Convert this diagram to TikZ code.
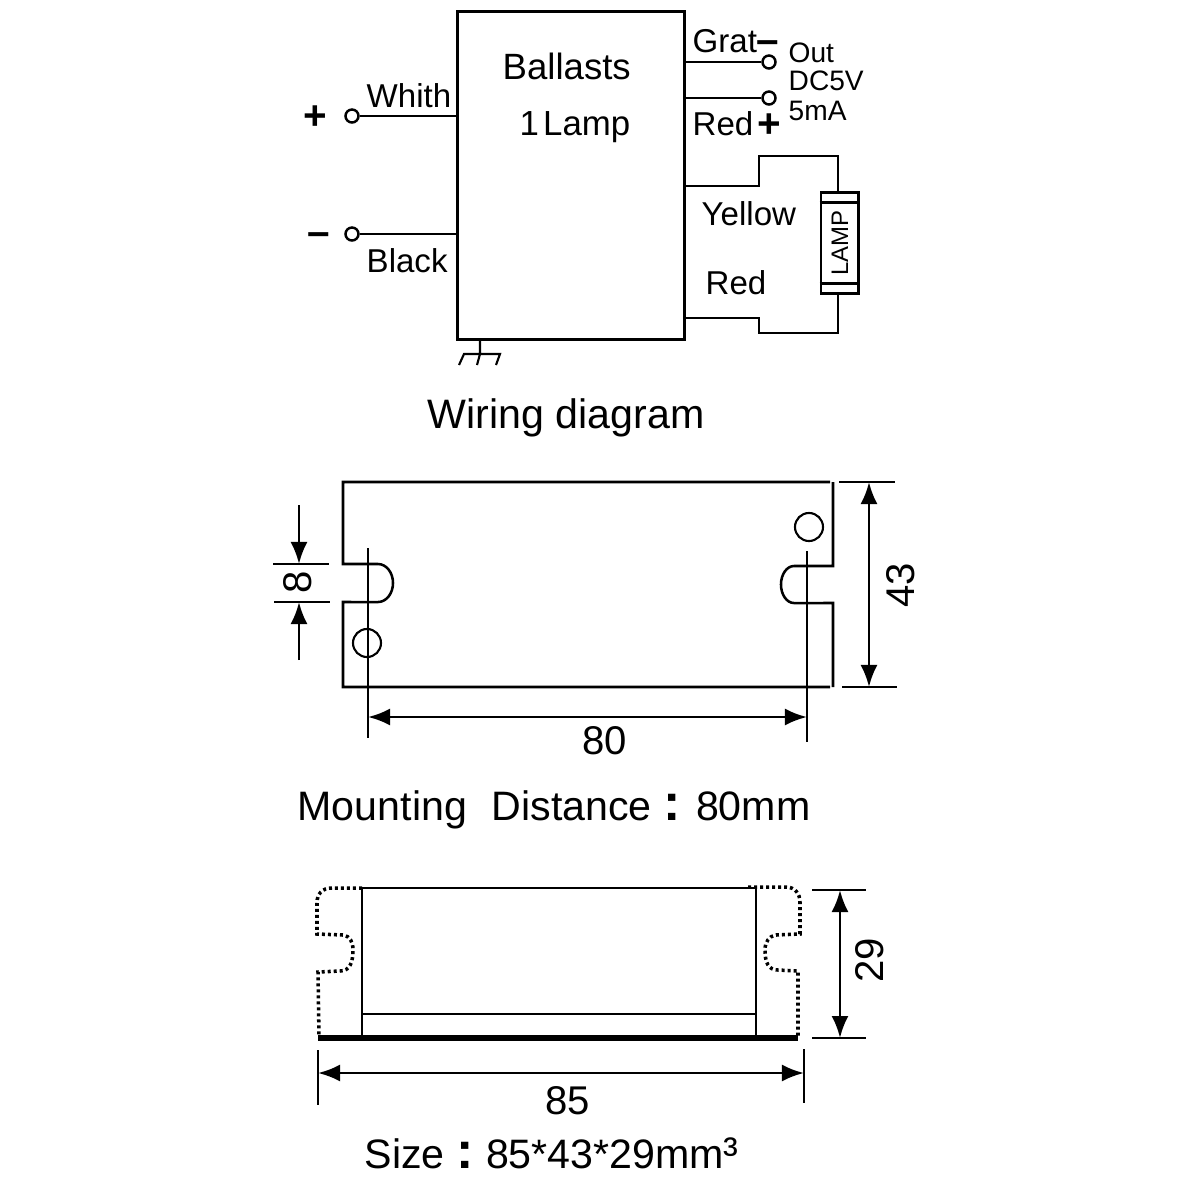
\documentclass[tikz,border=0pt]{standalone}
\usepackage{fontspec}
\setmainfont{Liberation Sans}
\newcommand{\wcolon}{{\fontsize{14.8pt}{15pt}\selectfont\bfseries :}}
\usetikzlibrary{arrows.meta}
\tikzset{
	wire/.style={line width=0.8pt},
	part/.style={line width=0.72pt},
	thin line/.style={line width=0.6pt},
	dim/.style={line width=0.8pt,{Latex[length=0.22cm,width=0.17cm]}-{Latex[length=0.22cm,width=0.17cm]}},
	dimin/.style={line width=0.8pt,-{Latex[length=0.22cm,width=0.17cm]}},
	dots/.style={line width=1pt,dash pattern=on 0.03cm off 0.03cm},
	term/.style={circle,draw,line width=0.7pt,fill=white,minimum size=0.13cm,inner sep=0pt},
	hole/.style={circle,draw,line width=0.6pt,minimum size=0.28cm,inner sep=0pt},
	lab/.style={anchor=base west,inner sep=0pt,font=\fontsize{9.4pt}{11pt}\selectfont},
	small lab/.style={anchor=base west,inner sep=0pt,font=\fontsize{8pt}{10pt}\selectfont},
	sign/.style={inner sep=0pt,font=\fontsize{11.5pt}{12pt}\selectfont\bfseries},
	cap lab/.style={anchor=base west,inner sep=0pt,font=\fontsize{11.7pt}{14pt}\selectfont},
	num/.style={inner sep=0pt,font=\fontsize{11.4pt}{14pt}\selectfont}
}
\begin{document}
\begin{tikzpicture}[x=0.01cm,y=-0.01cm,line join=miter,line cap=butt]
	\useasboundingbox (0,0) rectangle (1181,1181);
	%Wiring diagram
	\node[draw,line width=0.85pt,minimum width=2.26cm,minimum height=3.27cm,inner sep=0pt] (Bal) at (571,175.5) {};
	\node[lab,font=\fontsize{10.4pt}{12pt}\selectfont] (tBal) at (502,79) {Ballasts};
	\node[lab,font=\fontsize{9.9pt}{12pt}\selectfont] (tLamp) at (519,135) {1\kern0.12em Lamp};
	\node[term] (T1) at (352,116) {};
	\node[term] (T2) at (352,234) {};
	\node[term] (T3) at (769,62) {};
	\node[term] (T4) at (769,98) {};
	\draw[wire] (T1)--(T1-|Bal.west);
	\draw[wire] (T2)--(T2-|Bal.west);
	\draw[wire] (T3)--(T3-|Bal.east);
	\draw[wire] (T4)--(T4-|Bal.east);
	\node[sign] (sP) at (315,118) {+};
	\node[sign] (sM) at (319,239) {–};
	\node[sign] (sGr) at (768,47) {–};
	\node[sign] (sRe) at (769,126) {+};
	\node[lab] (tWh) at (366,107) {Whith};
	\node[lab] (tBl) at (366,272) {Black};
	\node[lab] (tGr) at (692,52) {Grat};
	\node[lab] (tRe) at (692,135) {Red};
	\node[lab] (tYe) at (701,225) {Yellow};
	\node[lab] (tRd) at (705,294) {Red};
	\node[small lab] (tOut) at (788,62) {Out};
	\node[small lab] (tDC) at (788,90) {DC5V};
	\node[small lab] (tMA) at (788,120) {5mA};
	%Lamp
	\node[draw,line width=0.85pt,minimum width=0.37cm,minimum height=1cm,inner sep=0pt] (Lp) at (839.5,243) {};
	\node[rotate=90,inner sep=0pt,font=\fontsize{6.8pt}{8pt}\selectfont] (tLp) at (840,243) {LAMP};
	\draw[wire] (Lp.north west)++(0,11) coordinate (L1)--(L1-|Lp.east);
	\draw[wire] (Lp.south west)++(0,-11) coordinate (L2)--(L2-|Lp.east);
	\path (Bal.east|-0,186) coordinate (Y1)
	(759,186) coordinate (Y2)
	(759,156) coordinate (Y3)
	(838,156) coordinate (Y4)
	(838,193) coordinate (Y5)
	(Bal.east|-0,318) coordinate (R1)
	(759,318) coordinate (R2)
	(759,333) coordinate (R3)
	(838,333) coordinate (R4)
	(838,293) coordinate (R5);
	\draw[wire] (Y1)--(Y2)--(Y3)--(Y4)--(Y5);
	\draw[wire] (R1)--(R2)--(R3)--(R4)--(R5);
	%Ground
	\path (480,339) coordinate (G0)
	(480,354) coordinate (G1)
	(464,354) coordinate (G2)
	(500,354) coordinate (G3)
	(459,365) coordinate (G4)
	(477,365) coordinate (G5)
	(496,365) coordinate (G6);
	\draw[thin line] (G0)--(G1) (G4)--(G2)--(G3)--(G6) (G1)--(G5);
	\node[cap lab] (tWir) at (427,428) {Wiring diagram};
	%Mounting view
	\path (343,482) coordinate (A1)
	(830,482) coordinate (A2)
	(833,482) coordinate (B1)
	(833,566) coordinate (B2)
	(794,566) coordinate (B3)
	(794,603) coordinate (B4)
	(833,603) coordinate (B5)
	(833,687) coordinate (B6)
	(343,564) coordinate (C1)
	(378,564) coordinate (C2)
	(378,602) coordinate (C3)
	(343,602) coordinate (C4)
	(343,687) coordinate (C5)
	(830,687) coordinate (C6);
	\draw[part] (A2)--(A1)--(C1)--(C2) arc (90:-90:0.15cm and 0.19cm)--(C4)--(C5)--(C6);
	\draw[part] (B1)--(B2)--(B3) arc (90:270:0.13cm and 0.185cm)--(B5)--(B6);
	\node[hole] (H1) at (367,643) {};
	\node[hole] (H2) at (809,527) {};
	\path (368,548) coordinate (E1) (368,738) coordinate (E2)
	(807,551) coordinate (E3) (807,742) coordinate (E4)
	(368,717) coordinate (E5) (807,717) coordinate (E6)
	(839,482) coordinate (F1) (895,482) coordinate (F2)
	(842,687) coordinate (F3) (897,687) coordinate (F4)
	(869,482) coordinate (F5) (869,687) coordinate (F6)
	(273,564) coordinate (K1) (329,564) coordinate (K2)
	(274,602) coordinate (K3) (330,602) coordinate (K4)
	(299,505) coordinate (K5) (299,564) coordinate (K6)
	(299,660) coordinate (K7) (299,602) coordinate (K8);
	\draw[part] (E1)--(E2) (E3)--(E4) (F1)--(F2) (F3)--(F4) (K1)--(K2) (K3)--(K4);
	\draw[dim] (E5)--(E6);
	\draw[dim] (F5)--(F6);
	\draw[dimin] (K5)--(K6);
	\draw[dimin] (K7)--(K8);
	\node[num,rotate=90] (n8) at (298,582) {8};
	\node[num,rotate=90] (n43) at (901,585) {43};
	\node[num] (n80) at (605,741) {80};
	\node[cap lab] (tMou) at (297,820) {Mounting\kern0.6em Distance\kern0.12cm\wcolon\kern0.15cm 80mm};
	%Size view
	\path (362,888) coordinate (S1) (756,888) coordinate (S2)
	(362,1037) coordinate (S3) (756,1037) coordinate (S4)
	(362,1014) coordinate (S5) (756,1014) coordinate (S6)
	(318,1038) coordinate (S7) (798,1038) coordinate (S8)
	(318,1050) coordinate (M1) (318,1105) coordinate (M2)
	(804,1049) coordinate (M3) (804,1103) coordinate (M4)
	(318,1073) coordinate (M5) (804,1073) coordinate (M6)
	(812,890) coordinate (N1) (866,890) coordinate (N2)
	(812,1038) coordinate (N3) (866,1038) coordinate (N4)
	(840,890) coordinate (N5) (840,1038) coordinate (N6);
	\draw[part] (S3)--(S1)--(S2)--(S4) (S5)--(S6);
	\draw[line width=1.5pt] (S7)--(S8);
	\draw[dots] (362,888)--(332,888) .. controls (322,888) and (317,894) .. (317,903)--(317,934)--(343,935)
	.. controls (350,936) and (353,942) .. (353,950) .. controls (353,962) and (350,971) .. (340,971)--(318,972)--(319,1037);
	\draw[dots] (748,887)--(786,887) .. controls (795,887) and (800,894) .. (800,902)--(800,934)--(776,935)
	.. controls (769,936) and (765,942) .. (765,950) .. controls (765,962) and (768,970) .. (778,970)--(798,971)--(798,1037);
	\draw[part] (M1)--(M2) (M3)--(M4) (N1)--(N2) (N3)--(N4);
	\draw[dim] (M5)--(M6);
	\draw[dim] (N5)--(N6);
	\node[num,rotate=90] (n29) at (870,960) {29};
	\node[num] (n85) at (568,1101) {85};
	\node[cap lab] (tSiz) at (364,1168) {Size\kern0.12cm\wcolon\kern0.12cm 85*43*29mm{\fontsize{12.6pt}{14pt}\selectfont ³}};
\end{tikzpicture}
\end{document}
